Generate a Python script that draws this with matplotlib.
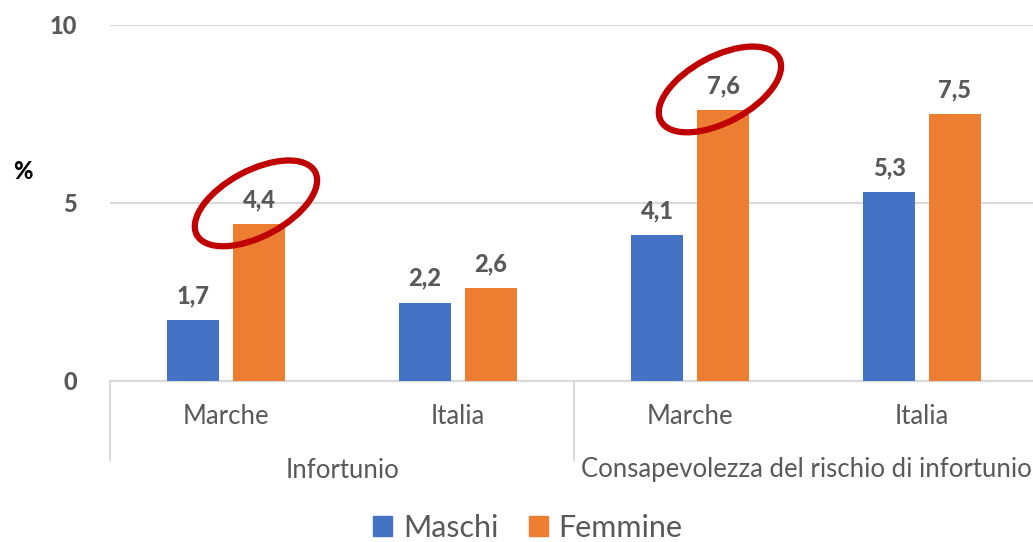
import numpy as np
import matplotlib
matplotlib.use("Agg")
import matplotlib.pyplot as plt
from matplotlib.patches import Ellipse, Patch
from matplotlib.transforms import IdentityTransform, blended_transform_factory

plt.rcParams['font.family'] = ['Lato', 'DejaVu Sans']

groups = ["Infortunio", "Consapevolezza del rischio di infortunio"]
areas = ["Marche", "Italia", "Marche", "Italia"]
maschi = [1.7, 2.2, 4.1, 5.3]
femmine = [4.4, 2.6, 7.6, 7.5]
highlight = [0, 2]  # femmine bars circled in red

blue = "#4472C4"
orange = "#ED7D31"
grey_txt = "#595959"
grid_col = "#D9D9D9"

fig = plt.figure(figsize=(10.33, 5.42), dpi=100)
ax = fig.add_axes([110 / 1033, 161 / 542, 928 / 1033, 356 / 542])

x = np.arange(len(areas)) + 0.5
w = 0.224
off = 0.142
ax.bar(x - off, maschi, w, color=blue, zorder=3)
ax.bar(x + off, femmine, w, color=orange, zorder=3)

for xs, vals in [(x - off, maschi), (x + off, femmine)]:
    for xi, v in zip(xs, vals):
        ax.annotate(f"{v:.1f}".replace(".", ","), (xi, v), xytext=(0, 13),
                    textcoords="offset pixels", ha="center", va="bottom",
                    fontsize=17, fontweight="black", color=grey_txt)

ax.set_xlim(0, 4)
ax.set_ylim(0, 10)
ax.set_yticks([0, 5, 10])
ax.set_yticklabels(["0", "5", "10"], fontsize=17, fontweight="black", color=grey_txt)
ax.tick_params(axis="y", length=0, pad=24)
ax.set_xticks([])
ax.grid(axis="y", color=grid_col, linewidth=1.5, zorder=0)
for s in ["top", "right", "left"]:
    ax.spines[s].set_visible(False)
ax.spines["bottom"].set_color(grid_col)
ax.spines["bottom"].set_linewidth(1.5)

fig.text(23 / 1033, 1 - 172 / 542, "%", fontsize=17, fontweight="black",
         color="black", ha="center", va="center")

# two-level category axis
trans = blended_transform_factory(ax.transData, ax.transAxes)
for xi, name in zip(x, areas):
    ax.annotate(name, (xi, 0), xycoords=trans, xytext=(0, -35),
                textcoords="offset pixels", ha="center", va="center",
                fontsize=18.5, color=grey_txt)
for gi, name in enumerate(groups):
    ax.annotate(name, (gi * 2 + 1, 0), xycoords=trans, xytext=(0, -89),
                textcoords="offset pixels", ha="center", va="center",
                fontsize=18.5, color=grey_txt)
for xb in [0, 2, 4]:
    ax.plot([xb, xb], [0, -79 / 356], transform=trans, color=grid_col,
            lw=1.5, clip_on=False)

# red ellipses around highlighted values
fig.canvas.draw()
for i in highlight:
    cx, cy = ax.transData.transform((x[i] + off, femmine[i]))
    e = Ellipse((cx - 3, cy + 21), 134, 66, angle=28, fill=False,
                edgecolor="#C00000", linewidth=4.5,
                transform=IdentityTransform(), zorder=5)
    fig.add_artist(e)

handles = [Patch(color=blue, label="Maschi"), Patch(color=orange, label="Femmine")]
fig.legend(handles=handles, loc="center", bbox_to_anchor=(528 / 1033, 1 - 528 / 542),
           ncol=2, frameon=False, fontsize=22, handlelength=0.62, handleheight=0.62,
           handletextpad=0.35, columnspacing=1.0, labelcolor=grey_txt)

fig.savefig("out.png", dpi=100)
